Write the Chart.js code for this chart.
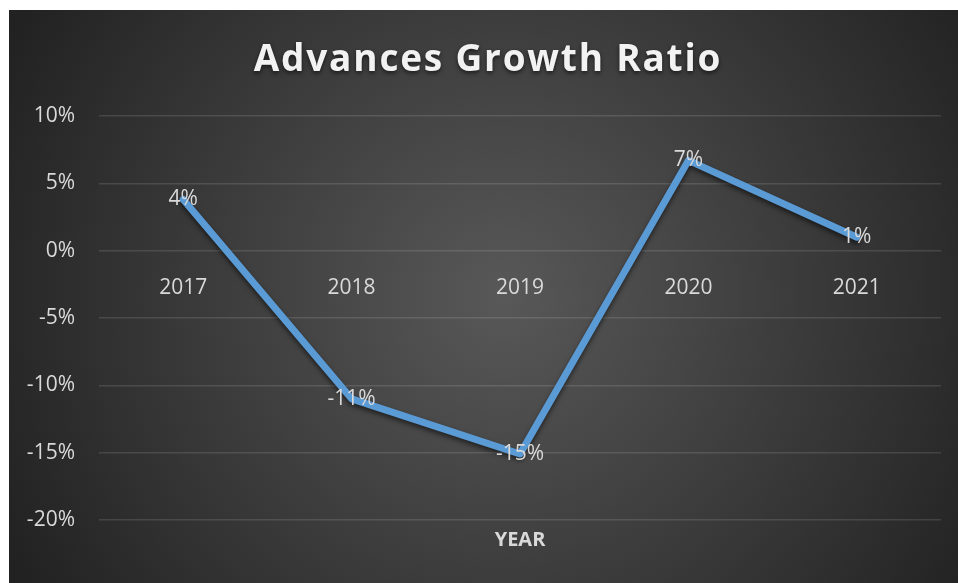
<!DOCTYPE html>
<html>
<head>
<meta charset="UTF-8">
<title>Advances Growth Ratio</title>
<style type="text/css">
body {
	margin: 0;
	background: #ffffff;
}
#wrap {
	position: absolute;
	left: 9px;
	top: 10px;
	width: 949px;
	height: 573px;
}
</style>
</head>
<body>
	<div id="wrap">
		<canvas id="growthChart"></canvas>
	</div>
</body>
<script src="https://cdn.jsdelivr.net/npm/chart.js@4.4.0/dist/chart.umd.min.js"></script>
<script type="text/javascript">
	// 연도별 대출 성장률 (%)
	const years = ['2017', '2018', '2019', '2020', '2021'];
	const growth = [3.8, -11.0, -15.1, 6.7, 1.0];
	const yTicks = [-20, -15, -10, -5, 0, 5, 10];

	const chartTitle = 'Advances Growth Ratio';
	const xTitle = 'YEAR';
	const textColor = '#d9d9d9';
	const font = '"Open Sans", "Liberation Sans", sans-serif';

	// dark radial background + title / axis title / point labels
	const decor = {
		id: 'decor',
		beforeDraw(chart) {
			const c = chart.ctx;
			const w = chart.width, h = chart.height;
			const g = c.createRadialGradient(w * 0.52, h * 0.5, 0, w * 0.52, h * 0.5, Math.sqrt(w * w + h * h) / 2);
			g.addColorStop(0, '#585858');
			g.addColorStop(1, '#222222');
			c.save();
			c.fillStyle = g;
			c.fillRect(0, 0, w, h);
			c.restore();
		},
		beforeDatasetDraw(chart) {
			const c = chart.ctx;
			c.save();
			c.shadowColor = 'rgba(0,0,0,0.55)';
			c.shadowBlur = 5;
			c.shadowOffsetY = 3;
		},
		afterDatasetDraw(chart) {
			chart.ctx.restore();
		},
		afterDraw(chart) {
			const c = chart.ctx;
			const area = chart.chartArea;
			c.save();
			// title
			c.font = 'bold 37px ' + font;
			c.letterSpacing = '1.8px';
			c.textAlign = 'center';
			c.textBaseline = 'alphabetic';
			c.shadowColor = 'rgba(0,0,0,0.6)';
			c.shadowBlur = 4;
			c.shadowOffsetY = 2;
			c.fillStyle = '#f2f2f2';
			c.fillText(chartTitle, 479, 61);
			c.shadowColor = 'transparent';
			c.letterSpacing = '0px';

			// x axis title
			c.font = 'bold 20px ' + font;
			c.fillStyle = textColor;
			c.textBaseline = 'middle';
			c.fillText(xTitle, (area.left + area.right) / 2, 530);

			// value labels on the points
			c.font = '21px ' + font;
			const meta = chart.getDatasetMeta(0);
			meta.data.forEach(function(pt, i) {
				c.fillText(Math.round(growth[i]) + '%', pt.x, pt.y);
			});
			c.restore();
		}
	};

	const ctx = document.getElementById('growthChart').getContext('2d');
	const chart = new Chart(ctx, {
		type: 'line',
		data: {
			labels: years,
			datasets: [{
				label: 'Growth',
				data: growth,
				borderColor: '#5b9bd5',
				borderWidth: 7,
				borderJoinStyle: 'round',
				borderCapStyle: 'round',
				pointRadius: 0,
				pointHoverRadius: 0,
				tension: 0,
				fill: false
			}]
		},
		options: {
			responsive: true,
			maintainAspectRatio: false,
			animation: false,
			layout: {
				padding: { top: 106, bottom: 63, left: 0, right: 17 }
			},
			plugins: {
				legend: { display: false },
				title: { display: false },
				tooltip: { enabled: false }
			},
			scales: {
				x: {
					type: 'category',
					offset: true,
					position: { y: 0 },
					grid: { display: false },
					border: { display: false },
					ticks: {
						color: textColor,
						font: { family: font, size: 21 },
						padding: 17,
						maxRotation: 0
					}
				},
				y: {
					min: -20,
					max: 10,
					afterFit: function(scale) { scale.width = 90; },
					afterBuildTicks: function(scale) {
						scale.ticks = yTicks.map(function(v) { return { value: v }; });
					},
					grid: {
						color: 'rgba(255,255,255,0.12)',
						lineWidth: 1.5,
						drawTicks: false
					},
					border: { display: false },
					ticks: {
						color: textColor,
						font: { family: font, size: 21 },
						padding: 24,
						callback: function(v) { return v + '%'; }
					}
				}
			}
		},
		plugins: [decor]
	});
</script>
</html>
